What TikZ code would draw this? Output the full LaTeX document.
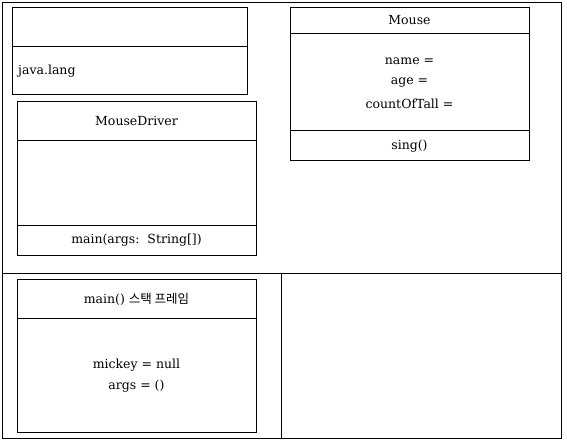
\documentclass[tikz,border=0pt]{standalone}
\usepackage{fontspec}
\setmainfont{DejaVu Serif}
\newfontfamily\kofont{Noto Sans CJK KR}
\begin{document}
\begin{tikzpicture}[x=1pt,y=-1pt,
  frame/.style={draw=black,line width=0.9pt},
  lbl/.style={inner sep=0pt,font=\fontsize{12.5}{15}\selectfont},
  div/.style={draw=black,line width=0.9pt}]
\useasboundingbox (0,0) rectangle (567,445);
% outer frame
\draw[frame] (2,2) rectangle (561,438);
\coordinate (hl) at (2,273);
\coordinate (hr) at (561,273);
\draw[div] (hl) -- (hr);
\coordinate (vt) at (281,273);
\coordinate (vb) at (281,438);
\draw[div] (vt) -- (vb);
% java.lang box
\draw[frame] (12,7) rectangle (247,94);
\draw[div] (12,46) -- (247,46);
\node[lbl,anchor=west] (jl) at (18,71) {java.lang};
% MouseDriver box
\draw[frame] (17,101) rectangle (256,255);
\draw[div] (17,140) -- (256,140);
\draw[div] (17,225) -- (256,225);
\node[lbl] (md) at (136.5,121) {MouseDriver};
\node[lbl] (mm) at (136.5,240) {main(args:\ \ String[])};
% Mouse box
\draw[frame] (290,7) rectangle (529,160);
\draw[div] (290,33) -- (529,33);
\node[lbl] (mo) at (409.5,20) {Mouse};
\node[lbl] (nm) at (409.5,61.5) {name =};
\node[lbl] (ag) at (409.5,82.5) {age =};
\node[lbl] (ct) at (409.5,103.5) {countOfTall =};
\draw[div] (290,130) -- (529,130);
\node[lbl] (sg) at (409.5,146) {sing()};
% stack frame box
\draw[frame] (17,279) rectangle (256,432);
\draw[div] (17,318) -- (256,318);
\node[lbl] (sf) at (136.5,299) {main() {\kofont 스택 프레임}};
\node[lbl] (mk) at (136.5,365) {mickey = null};
\node[lbl] (ar) at (136.5,386) {args = ()};
\end{tikzpicture}
\end{document}
